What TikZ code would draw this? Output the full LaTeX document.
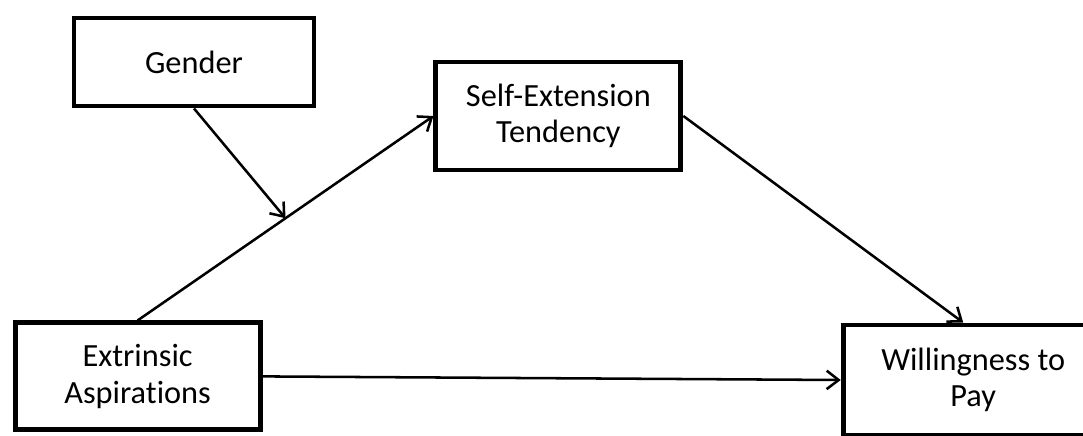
\documentclass[tikz,border=0pt]{standalone}
\usepackage{fontspec}
\setmainfont{Carlito}[Ligatures=NoCommon]
\usetikzlibrary{arrows.meta}

\tikzset{
 box/.style={draw, line width=3.5pt, align=center, font=\fontsize{23}{26}\selectfont, inner sep=0pt},
 link/.style={line width=1.8pt, -{Straight Barb[length=3mm,width=4.6mm]}}
}

\begin{document}
\begin{tikzpicture}
\useasboundingbox (0,0) rectangle (27.075,-10.875);
 \node[box, minimum width=6cm, minimum height=2.2cm] (gender) at(4.85,-1.55) {Gender} ;
 \node[box, minimum width=6.125cm, minimum height=2.7cm] (selfext) at(13.96,-2.9) {Self-Extension\\ Tendency} ;
 \node[box, minimum width=6.125cm, minimum height=2.675cm] (extrinsic) at(3.44,-9.41) {Extrinsic\\ Aspirations} ;
 \node[box, minimum width=6.5cm, minimum height=2.75cm] (wtp) at(24.33,-9.5) {Willingness to\\ Pay} ;
\draw[link] (extrinsic.north) -- coordinate[pos=0.5] (mid) (selfext.west) ;
\draw[link] (gender.south) -- (mid) ;
\draw[link] (selfext.east) -- ([xshift=-0.25cm]wtp.north) ;
\draw[link] (extrinsic.east) -- (wtp.west) ;
\end{tikzpicture}
\end{document}
